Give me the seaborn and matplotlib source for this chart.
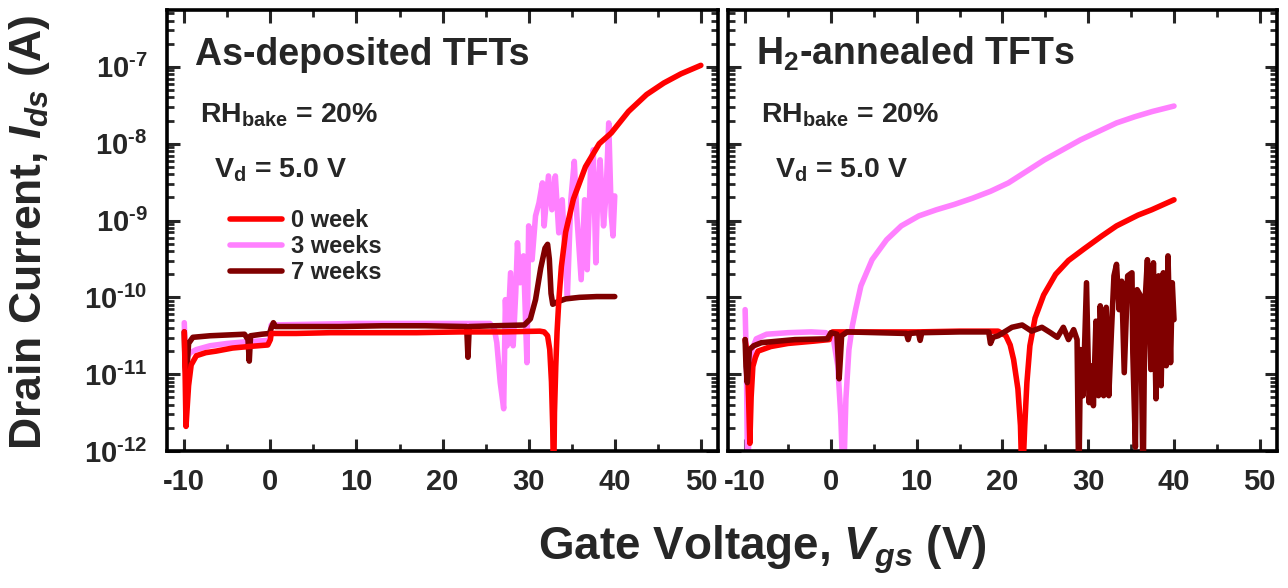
import numpy as np
import pandas as pd
import matplotlib
matplotlib.use("Agg")
import matplotlib.pyplot as plt
import seaborn as sns
from matplotlib.ticker import MultipleLocator, LogLocator, FuncFormatter, NullFormatter
from matplotlib.lines import Line2D

# ---------------- data (log10 of drain current in A) ----------------
series_labels = ["0 week", "3 weeks", "7 weeks"]
series_colors = ["#FF0000", "#FF80FF", "#800000"]
panel_titles = ["As-deposited TFTs", "H$_\\mathbf{2}$-annealed TFTs"]
x_ticks = [-10, 0, 10, 20, 30, 40, 50]

# As-deposited, 0 week
left_0wk_V = [-10.0, -9.9, -9.8, -9.7, -9.5, -9.2, -8.6, -7.5, -6.3, -4.4, -2.5, -0.3, 0.0, 0.1, 3, 7, 12,
              17, 22, 27, 31.3, 31.8, 32.2, 32.45, 32.65, 32.8, 32.9, 33.0, 33.15, 33.3, 33.5, 33.8, 34.3,
              35.2, 36.6, 38.2, 39.6, 41.6, 43.7, 45.7, 47.7, 50.0]
left_0wk_logI = [-10.45, -11.0, -11.68, -11.5, -11.15, -10.88, -10.76, -10.72, -10.70, -10.66, -10.64,
                 -10.62, -10.55, -10.47, -10.47, -10.46, -10.46, -10.46, -10.45, -10.45, -10.44, -10.45,
                 -10.50, -10.68, -11.1, -11.7, -12.5, -11.5, -10.9, -10.45, -10.05, -9.6, -9.15, -8.72,
                 -8.3, -8.0, -7.86, -7.58, -7.36, -7.21, -7.09, -6.98]

# As-deposited, 3 weeks
left_3wk_V = [-10.0, -9.9, -9.7, -9.3, -8.6, -7.0, -5.0, -3.0, -0.1, 0.1, 5, 10, 15, 20, 25.5, 26.0,
              26.3, 26.7, 27.1, 27.3, 27.5, 27.9, 28.2, 28.5, 28.7, 29.0, 29.4, 29.8, 30.0, 30.4, 30.8,
              31.2, 31.6, 31.8, 32.3, 32.7, 33.1, 33.5, 33.9, 34.2, 34.5, 34.9, 35.3, 35.6, 36.1, 36.5,
              36.8, 37.2, 37.5, 37.8, 38.0, 38.3, 38.7, 39.0, 39.3, 39.6, 39.8, 40.0]
left_3wk_logI = [-10.33, -10.75, -10.78, -10.72, -10.68, -10.63, -10.60, -10.58, -10.56, -10.36, -10.35,
                 -10.34, -10.34, -10.34, -10.34, -10.40, -10.59, -11.11, -11.45, -10.03, -10.63, -9.68,
                 -10.63, -9.94, -9.29, -9.81, -9.46, -10.85, -9.07, -9.51, -8.94, -8.77, -8.51, -9.07,
                 -8.42, -8.86, -8.42, -9.16, -8.73, -9.38, -9.98, -8.73, -8.23, -8.94, -9.77, -8.73,
                 -9.64, -8.29, -8.08, -9.55, -8.73, -8.21, -9.07, -8.64, -7.73, -8.94, -9.20, -8.68]

# As-deposited, 7 weeks
left_7wk_V = [-10.0, -9.9, -9.75, -9.5, -9.0, -7.0, -5.0, -3.0, -2.6, -2.45, -2.3, -1.0, -0.1, 0.1, 0.35,
              0.6, 3, 8, 13, 18, 22.8, 22.95, 23.1, 26, 29.5, 30.2, 30.8, 31.4, 31.9, 32.2, 32.4, 32.6,
              32.8, 33.3, 34.3, 35.9, 37.9, 40.0]
left_7wk_logI = [-10.45, -10.9, -11.05, -10.6, -10.52, -10.50, -10.49, -10.48, -10.55, -10.83, -10.50,
                 -10.48, -10.47, -10.40, -10.33, -10.38, -10.38, -10.38, -10.37, -10.37, -10.38, -10.78,
                 -10.38, -10.37, -10.36, -10.28, -10.03, -9.62, -9.36, -9.31, -9.50, -9.95, -10.09,
                 -10.06, -10.02, -10.00, -9.99, -9.99]

# H2-annealed, 0 week
right_0wk_V = [-10.0, -9.8, -9.6, -9.45, -9.3, -9.1, -8.8, -8.5, -7.0, -5.0, -2.0, -0.2, 0.0, 0.2, 5, 10,
               15, 19.5, 20.4, 20.9, 21.3, 21.8, 22.1, 22.3, 22.6, 22.85, 23.2, 23.8, 24.8, 26.2, 27.7,
               29.5, 31.6, 33.3, 35.8, 37.4, 40.0]
right_0wk_logI = [-10.55, -10.7, -11.3, -11.9, -11.3, -10.9, -10.78, -10.70, -10.64, -10.60, -10.57,
                  -10.55, -10.47, -10.45, -10.45, -10.45, -10.44, -10.44, -10.50, -10.62, -10.81, -11.19,
                  -11.67, -12.5, -11.67, -11.11, -10.63, -10.27, -9.97, -9.70, -9.52, -9.37, -9.20,
                  -9.07, -8.93, -8.86, -8.73]

# H2-annealed, 3 weeks
right_3wk_V = [-10.0, -9.85, -9.7, -9.5, -9.2, -8.7, -7.5, -5.0, -2.3, -0.6, 0.3, 0.8, 1.15, 1.45, 1.75,
               2.1, 2.5, 2.9, 3.5, 4.8, 6.5, 8.2, 10.25, 12.3, 14.4, 16.5, 18.6, 20.7, 22.8, 24.9, 27.0,
               29.1, 31.2, 33.3, 35.4, 37.5, 40.0]
right_3wk_logI = [-10.16, -10.89, -12.5, -11.32, -10.68, -10.54, -10.48, -10.46, -10.45, -10.46, -10.55,
                  -10.89, -11.54, -12.5, -11.32, -10.68, -10.37, -10.15, -9.85, -9.51, -9.25, -9.07,
                  -8.94, -8.86, -8.79, -8.71, -8.62, -8.51, -8.36, -8.21, -8.08, -7.95, -7.84, -7.73,
                  -7.65, -7.58, -7.51]

# H2-annealed, 7 weeks
right_7wk_V = [-10.0, -9.9, -9.75, -9.5, -9.0, -8.1, -4.2, -0.4, 0.0, 0.7, 0.85, 0.96, 1.1, 1.25, 1.9,
               5.4, 8.8, 9.0, 9.2, 10.2, 10.4, 10.6, 15, 18.4, 18.6, 18.9, 19.5, 21.1, 22.3, 23.4, 24.6,
               25.6, 26.4, 27.1, 27.7, 28.3, 28.7, 28.9, 29.1, 29.4, 29.8, 30.1, 30.5, 30.6, 30.9, 31.2,
               31.4, 31.8, 32.1, 32.4, 32.7, 33.0, 33.3, 33.6, 33.9, 34.2, 34.6, 35.1, 35.2, 35.5, 35.7,
               36.1, 36.4, 36.6, 36.9, 37.3, 37.6, 37.9, 38.2, 38.5, 38.75, 39.1, 39.3, 39.6, 39.8, 40.0]
right_7wk_logI = [-10.55, -10.9, -11.11, -10.68, -10.63, -10.59, -10.55, -10.54, -10.46, -10.48, -10.8,
                  -11.06, -10.8, -10.50, -10.45, -10.46, -10.47, -10.55, -10.47, -10.46, -10.56, -10.46,
                  -10.45, -10.45, -10.60, -10.52, -10.50, -10.39, -10.36, -10.44, -10.39, -10.46, -10.52,
                  -10.39, -10.55, -10.42, -10.55, -12.5, -10.68, -11.28, -9.81, -11.37, -10.89, -11.41,
                  -10.31, -11.28, -10.11, -11.28, -10.13, -11.28, -10.46, -9.72, -9.57, -10.16, -9.79,
                  -10.98, -9.72, -9.68, -10.72, -11.95, -9.90, -9.98, -12.5, -10.11, -9.51, -10.94, -9.55,
                  -11.32, -9.72, -11.15, -9.68, -10.89, -9.46, -10.85, -9.81, -10.29]


def make_df(V, logI, label):
    return pd.DataFrame({"Vgs": V, "Ids": np.power(10.0, np.asarray(logI)), "series": label})


panels = [
    [make_df(left_0wk_V, left_0wk_logI, series_labels[0]),
     make_df(left_3wk_V, left_3wk_logI, series_labels[1]),
     make_df(left_7wk_V, left_7wk_logI, series_labels[2])],
    [make_df(right_0wk_V, right_0wk_logI, series_labels[0]),
     make_df(right_3wk_V, right_3wk_logI, series_labels[1]),
     make_df(right_7wk_V, right_7wk_logI, series_labels[2])],
]
# drawing order (z) per panel: index into series
zorders = [[4, 2, 3], [3, 2, 4]]

# ---------------- style ----------------
sns.set_theme(style="ticks")
plt.rcParams["font.family"] = ["Liberation Sans", "DejaVu Sans"]
plt.rcParams["font.weight"] = "bold"
plt.rcParams["mathtext.fontset"] = "custom"
plt.rcParams["mathtext.rm"] = "Liberation Sans:bold"
plt.rcParams["mathtext.bf"] = "Liberation Sans:bold"
plt.rcParams["mathtext.sf"] = "Liberation Sans:bold"
plt.rcParams["mathtext.it"] = "Liberation Sans:bold:italic"

fig = plt.figure(figsize=(12.88, 5.88), dpi=100)
ax_l = fig.add_axes([0.1297, 0.2330, 0.4278, 0.7500])
ax_r = fig.add_axes([0.5652, 0.2330, 0.4262, 0.7500])
axes = [ax_l, ax_r]

lw = 4.0
for p, ax in enumerate(axes):
    for s in range(3):
        sns.lineplot(data=panels[p][s], x="Vgs", y="Ids", ax=ax, color=series_colors[s],
                     lw=lw, sort=False, estimator=None, zorder=zorders[p][s], legend=False,
                     solid_joinstyle="round", solid_capstyle="round")
    ax.set_yscale("log")
    ax.set_xlim(-12, 52)
    ax.set_ylim(1e-12, 5.5e-7)
    ax.set_xlabel("")
    ax.set_ylabel("")
    ax.xaxis.set_minor_locator(MultipleLocator(5))
    ax.set_xticks(x_ticks)
    ax.set_xticklabels([str(t) for t in x_ticks])
    ax.yaxis.set_major_locator(LogLocator(base=10, numticks=20))
    ax.yaxis.set_minor_locator(LogLocator(base=10, subs=np.arange(2, 10), numticks=20))
    ax.yaxis.set_minor_formatter(NullFormatter())
    ax.tick_params(which="both", direction="in", top=True, right=True, bottom=True, left=True)
    ax.tick_params(which="major", length=9, width=2.2)
    ax.tick_params(which="minor", length=5, width=2.0)
    ax.tick_params(axis="x", which="major", labelsize=21, pad=12)
    ax.tick_params(axis="y", which="major", labelsize=21, pad=14)
    for sp in ax.spines.values():
        sp.set_linewidth(2.6)
        sp.set_color("black")
        sp.set_visible(True)
    for lab in ax.get_xticklabels():
        lab.set_fontweight("bold")
    ax.text(0.051, 0.875, panel_titles[p], transform=ax.transAxes, fontsize=27,
            fontweight="bold", ha="left", va="baseline")
    ax.text(0.060, 0.744, "RH$_\\mathbf{bake}$ = 20%", transform=ax.transAxes, fontsize=20.5,
            fontweight="bold", ha="left", va="baseline")
    ax.text(0.086, 0.621, "V$_\\mathbf{d}$ = 5.0 V", transform=ax.transAxes, fontsize=20.5,
            fontweight="bold", ha="left", va="baseline")

ax_l.yaxis.set_major_formatter(
    FuncFormatter(lambda v, pos: "$\\mathbf{10^{\\text{-}%d}}$" % abs(int(round(np.log10(v))))))
ax_r.yaxis.set_major_formatter(NullFormatter())

handles = [Line2D([0], [0], color=c, lw=lw) for c in series_colors]
leg = ax_l.legend(handles, series_labels, loc="upper left", bbox_to_anchor=(0.115, 0.548),
                  frameon=False, fontsize=17, handlelength=2.2, handletextpad=0.35,
                  labelspacing=0.12, borderpad=0, borderaxespad=0)
for t in leg.get_texts():
    t.set_fontweight("bold")

fig.text(0.592, 1 - 550 / 588, "Gate Voltage, $V_{gs}$ (V)", fontsize=33, fontweight="bold",
         ha="center", va="center")
fig.text(30 / 1288, 1 - 232 / 588, "Drain Current, $I_{ds}$ (A)", fontsize=32, fontweight="bold",
         ha="center", va="center", rotation=90)

fig.savefig("out.png", dpi=100, facecolor="white")
